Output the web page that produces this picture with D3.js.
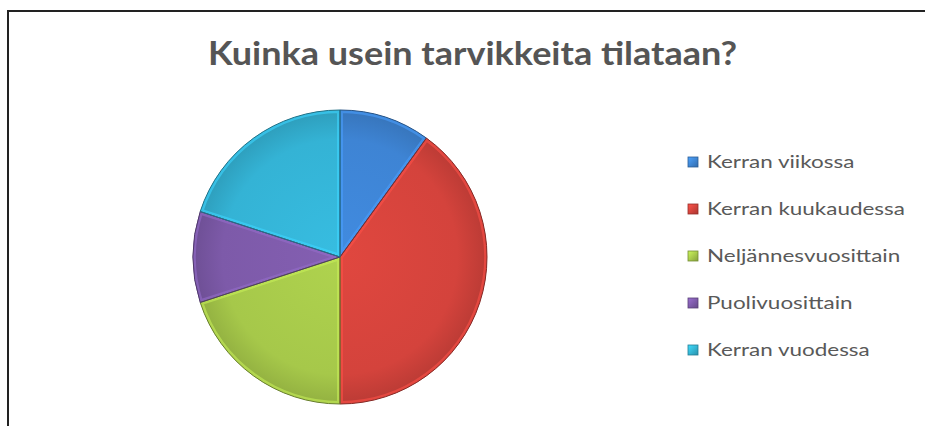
<!DOCTYPE html>
<html>
<head>
<meta charset="utf-8">
<script src="https://cdn.jsdelivr.net/npm/d3@7/dist/d3.min.js"></script>
<style>
  html, body { margin: 0; background: #fff; overflow: hidden; }
  svg { display: block; }
</style>
</head>
<body>
<script>
  // data (percent shares)
  const categories = ["Kerran viikossa", "Kerran kuukaudessa", "Neljännesvuosittain", "Puolivuosittain", "Kerran vuodessa"];
  const values = [10, 40, 20, 10, 20];
  const palette = ["#3e84d4", "#d4433c", "#a6c84a", "#7d5aa9", "#34b3d5"];
  const title = "Kuinka usein tarvikkeita tilataan?";

  const w = 925, h = 426;
  const cx = 340, cy = 257, r = 147;

  const svg = d3.select("body").append("svg")
    .attr("width", w)
    .attr("height", h);

  // frame of the chart area (runs off right and bottom)
  svg.append("line")
    .attr("x1", 8).attr("y1", 10).attr("x2", 8).attr("y2", h)
    .attr("stroke", "#222").attr("stroke-width", 2);
  svg.append("line")
    .attr("x1", 7).attr("y1", 11).attr("x2", w).attr("y2", 11)
    .attr("stroke", "#222").attr("stroke-width", 2);

  svg.append("text")
    .attr("x", 208)
    .attr("y", 65)
    .attr("textLength", 529)
    .attr("lengthAdjust", "spacingAndGlyphs")
    .attr("font-family", "Lato, 'Open Sans', sans-serif")
    .attr("font-weight", "bold")
    .attr("font-size", 32)
    .attr("fill", "#555")
    .text(title);

  const colour = d3.scaleOrdinal().domain(categories).range(palette);

  const defs = svg.append("defs");
  categories.forEach((c, i) => {
    const base = d3.color(colour(c));
    const g = defs.append("radialGradient")
      .attr("id", "grad" + i)
      .attr("gradientUnits", "userSpaceOnUse")
      .attr("cx", 0).attr("cy", 0).attr("r", r);
    g.append("stop").attr("offset", "0%").attr("stop-color", base.brighter(0.15));
    g.append("stop").attr("offset", "80%").attr("stop-color", base);
    g.append("stop").attr("offset", "100%").attr("stop-color", base.darker(0.35));

    const lg = defs.append("linearGradient")
      .attr("id", "lg" + i)
      .attr("x1", 0).attr("y1", 0).attr("x2", 1).attr("y2", 1);
    lg.append("stop").attr("offset", "0%").attr("stop-color", base.brighter(0.6));
    lg.append("stop").attr("offset", "100%").attr("stop-color", base.darker(0.6));
  });

  const pie = d3.pie().sort(null).value(d => d.value);
  const arc = d3.arc().innerRadius(0).outerRadius(r);
  const data = categories.map((c, i) => ({ name: c, value: values[i], i: i }));
  const arcs = pie(data);

  const g = svg.append("g").attr("transform", `translate(${cx},${cy})`);

  // clip paths so the bevel stroke stays inside each slice
  defs.selectAll("clipPath")
    .data(arcs)
    .enter()
    .append("clipPath")
    .attr("id", d => "clip" + d.data.i)
    .append("path")
    .attr("d", arc);

  g.selectAll("path.slice")
    .data(arcs)
    .enter()
    .append("path")
    .attr("class", "slice")
    .attr("d", arc)
    .attr("fill", d => `url(#grad${d.data.i})`);

  // soft light bevel just inside each edge
  g.selectAll("path.bevel")
    .data(arcs)
    .enter()
    .append("path")
    .attr("class", "bevel")
    .attr("d", arc)
    .attr("fill", "none")
    .attr("clip-path", d => `url(#clip${d.data.i})`)
    .attr("stroke", d => d3.color(colour(d.data.name)).brighter(0.5))
    .attr("stroke-opacity", 0.6)
    .attr("stroke-width", 6);

  g.selectAll("path.edge")
    .data(arcs)
    .enter()
    .append("path")
    .attr("class", "edge")
    .attr("d", arc)
    .attr("fill", "none")
    .attr("stroke", d => d3.color(colour(d.data.name)).darker(1.3))
    .attr("stroke-width", 1)
    .attr("stroke-linejoin", "round");

  // legend
  const legend = svg.append("g");
  const rowY = d3.scalePoint().domain(categories).range([162, 350]);

  const item = legend.selectAll("g")
    .data(categories)
    .enter()
    .append("g")
    .attr("transform", d => `translate(688,${rowY(d)})`);

  item.append("rect")
    .attr("x", 0).attr("y", -5)
    .attr("width", 10).attr("height", 10)
    .attr("fill", (d, i) => `url(#lg${i})`)
    .attr("stroke", d => d3.color(colour(d)).darker(1))
    .attr("stroke-width", 0.8);

  item.append("text")
    .attr("x", 19)
    .attr("y", 6)
    .attr("font-family", "Lato, 'Open Sans', sans-serif")
    .attr("font-size", 17)
    .attr("fill", "#595959")
    .text(d => d)
    .each(function() {
      // the reference lettering is drawn wider than the font; stretch to match
      const len = this.getComputedTextLength();
      d3.select(this).attr("textLength", len * 1.32).attr("lengthAdjust", "spacingAndGlyphs");
    });
</script>
</body>
</html>
